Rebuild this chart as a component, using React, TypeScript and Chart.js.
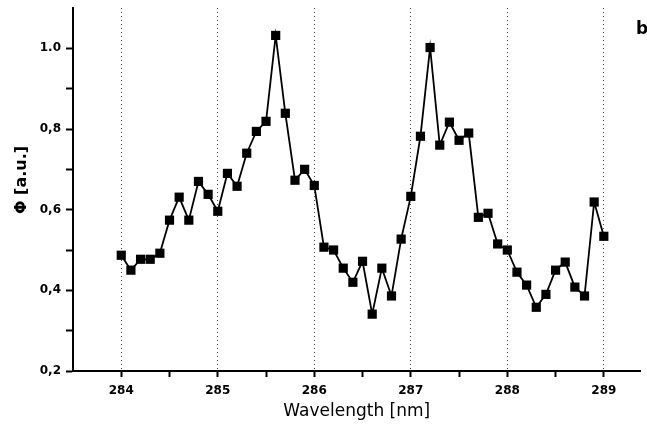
import React, { useEffect, useRef } from "react";
import { Chart, registerables } from "chart.js";

Chart.register(...registerables);

const wavelengths = [
  284.0, 284.1, 284.2, 284.3, 284.4, 284.5, 284.6, 284.7, 284.8, 284.9,
  285.0, 285.1, 285.2, 285.3, 285.4, 285.5, 285.6, 285.7, 285.8, 285.9,
  286.0, 286.1, 286.2, 286.3, 286.4, 286.5, 286.6, 286.7, 286.8, 286.9,
  287.0, 287.1, 287.2, 287.3, 287.4, 287.5, 287.6, 287.7, 287.8, 287.9,
  288.0, 288.1, 288.2, 288.3, 288.4, 288.5, 288.6, 288.7, 288.8, 288.9,
  289.0,
];
const phiValues = [
  0.487, 0.45, 0.477, 0.477, 0.492, 0.574, 0.631, 0.574, 0.67, 0.638,
  0.596, 0.69, 0.658, 0.74, 0.794, 0.819, 1.032, 0.839, 0.673, 0.7,
  0.66, 0.507, 0.5, 0.455, 0.42, 0.472, 0.341, 0.455, 0.386, 0.527,
  0.633, 0.782, 1.002, 0.76, 0.817, 0.772, 0.79, 0.581, 0.591, 0.515,
  0.5, 0.445, 0.413, 0.358, 0.39, 0.45, 0.47, 0.408, 0.386, 0.619,
  0.534,
];
const xTickLabels = ["284", "285", "286", "287", "288", "289"];
const yTickLabels: Record<string, string> = {
  "0.2": "0,2",
  "0.4": "0,4",
  "0.6": "0,6",
  "0.8": "0,8",
  "1.0": "1.0",
};
const xTitle = "Wavelength [nm]";
const yTitle = "Φ [a.u.]";
const panelLabel = "b";

const FONT = "'DejaVu Sans', sans-serif";

export default function App() {
  const ref = useRef<HTMLCanvasElement | null>(null);

  useEffect(() => {
    if (!ref.current) return;
    const textPlugin = {
      id: "extraText",
      afterDraw(chart: any) {
        const ctx = chart.ctx;
        ctx.save();
        ctx.fillStyle = "#000";
        ctx.font = `bold 17px ${FONT}`;
        ctx.textAlign = "left";
        ctx.textBaseline = "alphabetic";
        ctx.fillText(panelLabel, 636, 34);
        ctx.translate(22, 180);
        ctx.rotate(-Math.PI / 2);
        ctx.textAlign = "center";
        ctx.textBaseline = "middle";
        ctx.font = `bold 16px ${FONT}`;
        ctx.fillText(yTitle, 0, 0);
        ctx.restore();
      },
    };
    const chart = new Chart(ref.current, {
      type: "scatter",
      data: {
        datasets: [
          {
            data: wavelengths.map((x, i) => ({ x, y: phiValues[i] })),
            showLine: true,
            borderColor: "#000",
            borderWidth: 1.8,
            backgroundColor: "#000",
            pointStyle: "rect",
            pointRadius: 6.5,
            pointHoverRadius: 6.5,
            pointBorderWidth: 0,
            clip: false as any,
          },
        ],
      },
      options: {
        responsive: false,
        animation: false,
        layout: { padding: { top: 8, left: 0, right: 0, bottom: 0 } },
        plugins: { legend: { display: false }, tooltip: { enabled: false } },
        scales: {
          x: {
            type: "linear",
            min: 283.5,
            max: 289.38,
            afterFit: (s: any) => {
              s.height = 64;
              s.paddingLeft = 0;
              s.paddingRight = 0;
            },
            afterBuildTicks: (s: any) => {
              const t = [];
              for (let v = 284; v <= 289.01; v += 0.5) t.push({ value: Math.round(v * 10) / 10 });
              s.ticks = t;
            },
            border: { color: "#000", width: 2, dash: [1, 3] } as any,
            grid: {
              drawOnChartArea: true,
              color: (c: any) =>
                c.tick && Number.isInteger(c.tick.value) ? "#444" : "rgba(0,0,0,0)",
              lineWidth: 1,
              tickColor: "#000",
              tickLength: 6,
              tickWidth: 2,
              tickBorderDash: [],
            } as any,
            ticks: {
              autoSkip: false,
              maxRotation: 0,
              color: "#000",
              padding: 7,
              font: { family: FONT, size: 12, weight: "bold" },
              callback: (v: any) => {
                const idx = xTickLabels.indexOf(String(v));
                return idx >= 0 ? xTickLabels[idx] : "";
              },
            },
            title: {
              display: true,
              text: xTitle,
              color: "#000",
              font: { family: FONT, size: 17, weight: "500" },
              padding: { top: 0, bottom: 13 },
            },
          },
          y: {
            type: "linear",
            min: 0.2,
            max: 1.1,
            afterFit: (s: any) => {
              s.width = 73;
              s.paddingTop = 0;
              s.paddingBottom = 0;
            },
            afterBuildTicks: (s: any) => {
              const t = [];
              for (let i = 2; i <= 10; i++) t.push({ value: i / 10 });
              s.ticks = t;
            },
            border: { color: "#000", width: 2 },
            grid: {
              drawOnChartArea: false,
              tickColor: "#000",
              tickLength: 7,
              tickWidth: 2,
            },
            ticks: {
              autoSkip: false,
              color: "#000",
              padding: 5,
              font: { family: FONT, size: 12, weight: "bold" },
              callback: (v: any) => yTickLabels[Number(v).toFixed(1)] ?? "",
            },
            title: { display: false },
          },
        },
      },
      plugins: [textPlugin],
    });
    return () => chart.destroy();
  }, []);

  return (
    <div style={{ position: "absolute", left: 0, top: 0, width: 647, height: 435, background: "#fff" }}>
      <canvas ref={ref} width={647} height={435} />
    </div>
  );
}
